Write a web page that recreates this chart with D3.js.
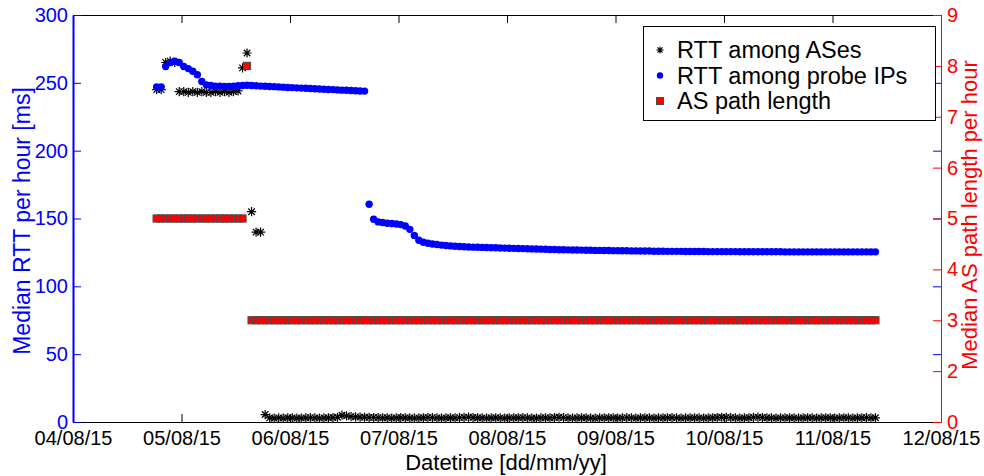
<!DOCTYPE html>
<html>
<head>
    <meta charset="utf-8">
    <title>Median RTT and AS path length per hour</title>
    <script src="https://d3js.org/d3.v7.min.js"></script>
    <style>
        body {
            margin: 0;
            background-color: #ffffff;
        }
        svg {
            font-family: "Liberation Sans", Arial, Helvetica, sans-serif;
        }
    </style>
</head>
<body>
    <div id="chart"></div>
    <script>

        // hourly samples, first one at 04/08/15 18:30
        var startTime = new Date(2015, 7, 4, 18, 30);

        // RTT among ASes [ms]
        var rttAses = [
            245, 245, 265, 266, 265, 243.5, 243.5, 243, 243.5, 243, 243.5, 243, 243, 243.5, 243, 243.5, 243, 243.5, 244, 261,
            272, 155, 140, 140, 5.5,
            3, 2.8, 3, 2.9, 3.1, 3, 2.8, 2.9, 3, 3.2, 3, 2.9, 3, 3.1, 3.3, 3.5,
            5, 4.5, 4, 3.8, 3.6, 3.5, 3.4, 3.3,
            3.2, 3, 3.1, 2.9, 3, 3.2, 3.1, 3, 2.9, 3,
            3.1, 3.3, 3.2, 3, 2.9, 3, 3.1, 3, 3.2, 3.4,
            3.6, 3.3, 3.1, 3, 2.9, 3, 3.1, 3, 2.9, 3,
            3, 3.1, 3.2, 3, 2.9, 2.8, 3, 3.1, 3, 3.3,
            3.5, 3.2, 3, 2.9, 3, 3.1, 3, 2.9, 2.8, 3,
            3, 3.1, 3, 2.9, 3, 3.2, 3, 2.9, 3, 3.1,
            3, 2.9, 3, 3, 3.1, 3.2, 3, 2.9, 3, 3,
            3.1, 3, 2.9, 3, 3.1, 3.3, 3.5, 3.4, 3.2, 3,
            2.9, 3, 3.1, 3.4, 3.6, 3.3, 3.1, 3, 2.9, 3,
            3, 3.1, 3, 2.9, 3, 3.1, 3, 2.9, 3, 3.1,
            3, 2.9, 3, 3.1, 3, 2.9, 3, 3.1, 3.2, 3, 3.1
        ];

        // RTT among probe IPs [ms]
        var rttProbes = [
            247, 247, 262, 265, 266, 265, 262, 260.5, 258.5, 256, 251, 248.5, 248, 247.5, 247.5, 247.3, 247.3, 247.5, 247.8, 248,
            248.2, 248, 247.8, 247.6, 247.5, 247.3, 247.2, 247, 246.8, 246.6,
            246.5, 246.3, 246.1, 246, 245.8, 245.6, 245.4, 245.3, 245.1, 245,
            244.8, 244.6, 244.5, 244.3, 244.2, 244, 243.9,
            160.5, 149.5, 147.5, 147, 146.5, 146.3, 146, 145.5, 144.5, 142,
            137.5, 134, 132.5, 131.8, 131.2, 130.8, 130.4, 130.1, 129.8, 129.6,
            129.4, 129.2, 129, 128.9, 128.8, 128.7, 128.6, 128.5, 128.4, 128.3,
            128.2, 128.1, 128, 127.9, 127.8, 127.7, 127.6, 127.5, 127.4, 127.3,
            127.2, 127.1, 127, 127, 126.9, 126.8, 126.8, 126.7, 126.6, 126.6,
            126.5, 126.5, 126.4, 126.4, 126.3, 126.3, 126.2, 126.2, 126.1, 126.1,
            126, 126, 126, 125.9, 125.9, 125.9, 125.8, 125.8, 125.8, 125.8,
            125.7, 125.7, 125.7, 125.7, 125.7, 125.6, 125.6, 125.6, 125.6, 125.6,
            125.6, 125.6, 125.5, 125.5, 125.5, 125.5, 125.5, 125.5, 125.5, 125.5,
            125.5, 125.5, 125.4, 125.4, 125.4, 125.4, 125.4, 125.4, 125.4, 125.4,
            125.4, 125.4, 125.4, 125.4, 125.4, 125.4, 125.4, 125.4, 125.4, 125.4,
            125.4, 125.4, 125.4
        ];

        // AS path length
        var pathLength = [
            5, 5, 5, 5, 5, 5, 5, 5, 5, 5, 5, 5, 5, 5, 5, 5, 5, 5, 5, 5,
            8,
            3, 3, 3, 3, 3, 3, 3, 3, 3, 3, 3, 3, 3, 3, 3, 3, 3, 3, 3, 3,
            3, 3, 3, 3, 3, 3, 3, 3, 3, 3, 3, 3, 3, 3, 3, 3, 3, 3, 3, 3,
            3, 3, 3, 3, 3, 3, 3, 3, 3, 3, 3, 3, 3, 3, 3, 3, 3, 3, 3, 3,
            3, 3, 3, 3, 3, 3, 3, 3, 3, 3, 3, 3, 3, 3, 3, 3, 3, 3, 3, 3,
            3, 3, 3, 3, 3, 3, 3, 3, 3, 3, 3, 3, 3, 3, 3, 3, 3, 3, 3, 3,
            3, 3, 3, 3, 3, 3, 3, 3, 3, 3, 3, 3, 3, 3, 3, 3, 3, 3, 3, 3,
            3, 3, 3, 3, 3, 3, 3, 3, 3, 3, 3, 3, 3, 3, 3, 3, 3, 3, 3
        ];

        var dayTicks = [
            new Date(2015, 7, 4), new Date(2015, 7, 5), new Date(2015, 7, 6),
            new Date(2015, 7, 7), new Date(2015, 7, 8), new Date(2015, 7, 9),
            new Date(2015, 7, 10), new Date(2015, 7, 11), new Date(2015, 7, 12)
        ];
        var leftTicks = [0, 50, 100, 150, 200, 250, 300];
        var rightTicks = [1, 2, 3, 4, 5, 6, 7, 8, 9];
        var rightTickLabels = ["0", "2", "3", "4", "5", "6", "7", "8", "9"];

        var legendNames = ["RTT among ASes", "RTT among probe IPs", "AS path length"];

        var W = 984, H = 476;
        var plot = { left: 73, right: 941, top: 15, bottom: 422 };
        var blue = "#0000ff", red = "#ff0000";

        var svg = d3.select("#chart")
            .append("svg")
            .attr("width", W)
            .attr("height", H);

        var x = d3.scaleTime()
            .domain([dayTicks[0], dayTicks[dayTicks.length - 1]])
            .range([plot.left, plot.right]);
        var yL = d3.scaleLinear().domain([0, 300]).range([plot.bottom, plot.top]);
        var yR = d3.scaleLinear().domain([1, 9]).range([plot.bottom, plot.top]);

        function t(i) { return d3.timeHour.offset(startTime, i); }

        // asterisk marker like matlab '*'
        function asterisk(s) {
            var a = s * 0.7071;
            return "M" + (-s) + ",0L" + s + ",0M0," + (-s) + "L0," + s +
                "M" + (-a) + "," + (-a) + "L" + a + "," + a +
                "M" + (-a) + "," + a + "L" + a + "," + (-a);
        }

        // white plot background
        svg.append("rect")
            .attr("x", plot.left).attr("y", plot.top)
            .attr("width", plot.right - plot.left)
            .attr("height", plot.bottom - plot.top)
            .style("fill", "white");

        // data
        svg.append("g").selectAll("path")
            .data(rttAses)
            .enter().append("path")
            .attr("d", asterisk(4.6))
            .attr("transform", function (d, i) { return "translate(" + x(t(i)) + "," + yL(d) + ")"; })
            .style("fill", "none")
            .style("stroke", "black")
            .style("stroke-width", 1.2);

        svg.append("g").selectAll("circle")
            .data(rttProbes)
            .enter().append("circle")
            .attr("cx", function (d, i) { return x(t(i)); })
            .attr("cy", function (d) { return yL(d); })
            .attr("r", 3.7)
            .style("fill", blue);

        svg.append("g").selectAll("rect")
            .data(pathLength)
            .enter().append("rect")
            .attr("x", function (d, i) { return x(t(i)) - 3.6; })
            .attr("y", function (d) { return yR(d) - 3.6; })
            .attr("width", 7.2)
            .attr("height", 7.2)
            .style("fill", red)
            .style("stroke", "#4d4d4d")
            .style("stroke-width", 1);

        // axes
        var fmt = d3.timeFormat("%d/%m/%y");

        var gBottom = svg.append("g")
            .attr("transform", "translate(0," + plot.bottom + ")")
            .call(d3.axisBottom(x).tickValues(dayTicks).tickFormat(fmt).tickSize(-8).tickSizeOuter(0).tickPadding(9));
        gBottom.selectAll("line, path").style("stroke", "black");
        gBottom.selectAll("text").style("font-size", "20px").style("fill", "black");

        var gTop = svg.append("g")
            .attr("transform", "translate(0," + plot.top + ")")
            .call(d3.axisTop(x).tickValues(dayTicks).tickFormat("").tickSize(-8).tickSizeOuter(0));
        gTop.selectAll("line, path").style("stroke", "black");

        // left axis ticks mirrored on right side
        var gMirror = svg.append("g")
            .attr("transform", "translate(" + plot.right + ",0)")
            .call(d3.axisRight(yL).tickValues(leftTicks).tickFormat("").tickSize(-8).tickSizeOuter(0));
        gMirror.selectAll("line, path").style("stroke", blue);

        var gRight = svg.append("g")
            .attr("transform", "translate(" + plot.right + ",0)")
            .call(d3.axisRight(yR).tickValues(rightTicks)
                .tickFormat(function (d, i) { return rightTickLabels[i]; })
                .tickSize(-8).tickSizeOuter(0).tickPadding(6));
        gRight.selectAll("line, path").style("stroke", red);
        gRight.selectAll("text").style("font-size", "20px").style("fill", red);

        var gLeft = svg.append("g")
            .attr("transform", "translate(" + plot.left + ",0)")
            .call(d3.axisLeft(yL).tickValues(leftTicks).tickSize(-8).tickSizeOuter(0).tickPadding(5));
        gLeft.selectAll("line, path").style("stroke", blue);
        gLeft.selectAll("path").style("stroke-width", 2);
        gLeft.selectAll("text").style("font-size", "20px").style("fill", blue);

        // axis labels
        svg.append("text")
            .attr("x", 506).attr("y", 470)
            .attr("text-anchor", "middle")
            .style("font-size", "22px")
            .text("Datetime [dd/mm/yy]");

        svg.append("text")
            .attr("transform", "translate(30,221) rotate(-90)")
            .attr("text-anchor", "middle")
            .style("font-size", "23px")
            .style("fill", blue)
            .text("Median RTT per hour [ms]");

        svg.append("text")
            .attr("transform", "translate(977,215) rotate(-90)")
            .attr("text-anchor", "middle")
            .style("font-size", "22px")
            .style("fill", red)
            .text("Median AS path length per hour");

        // legend
        var legend = svg.append("g");
        legend.append("rect")
            .attr("x", 643.5).attr("y", 26.5)
            .attr("width", 292).attr("height", 94)
            .style("fill", "white")
            .style("stroke", "black")
            .style("stroke-width", 1);

        var rows = legend.selectAll("g.row")
            .data(legendNames)
            .enter().append("g")
            .attr("class", "row")
            .attr("transform", function (d, i) { return "translate(0," + (50 + i * 25.5) + ")"; });

        rows.append("text")
            .attr("x", 677)
            .attr("dy", "0.35em")
            .style("font-size", "23.5px")
            .text(function (d) { return d; });

        rows.filter(function (d, i) { return i === 0; })
            .append("path")
            .attr("d", asterisk(3.6))
            .attr("transform", "translate(660,0)")
            .style("stroke", "black")
            .style("stroke-width", 1.1);
        rows.filter(function (d, i) { return i === 1; })
            .append("circle")
            .attr("cx", 660).attr("r", 3.2)
            .style("fill", blue);
        rows.filter(function (d, i) { return i === 2; })
            .append("rect")
            .attr("x", 656.5).attr("y", -3.5).attr("width", 7).attr("height", 7)
            .style("fill", red)
            .style("stroke", "#4d4d4d");

    </script>
</body>
</html>
